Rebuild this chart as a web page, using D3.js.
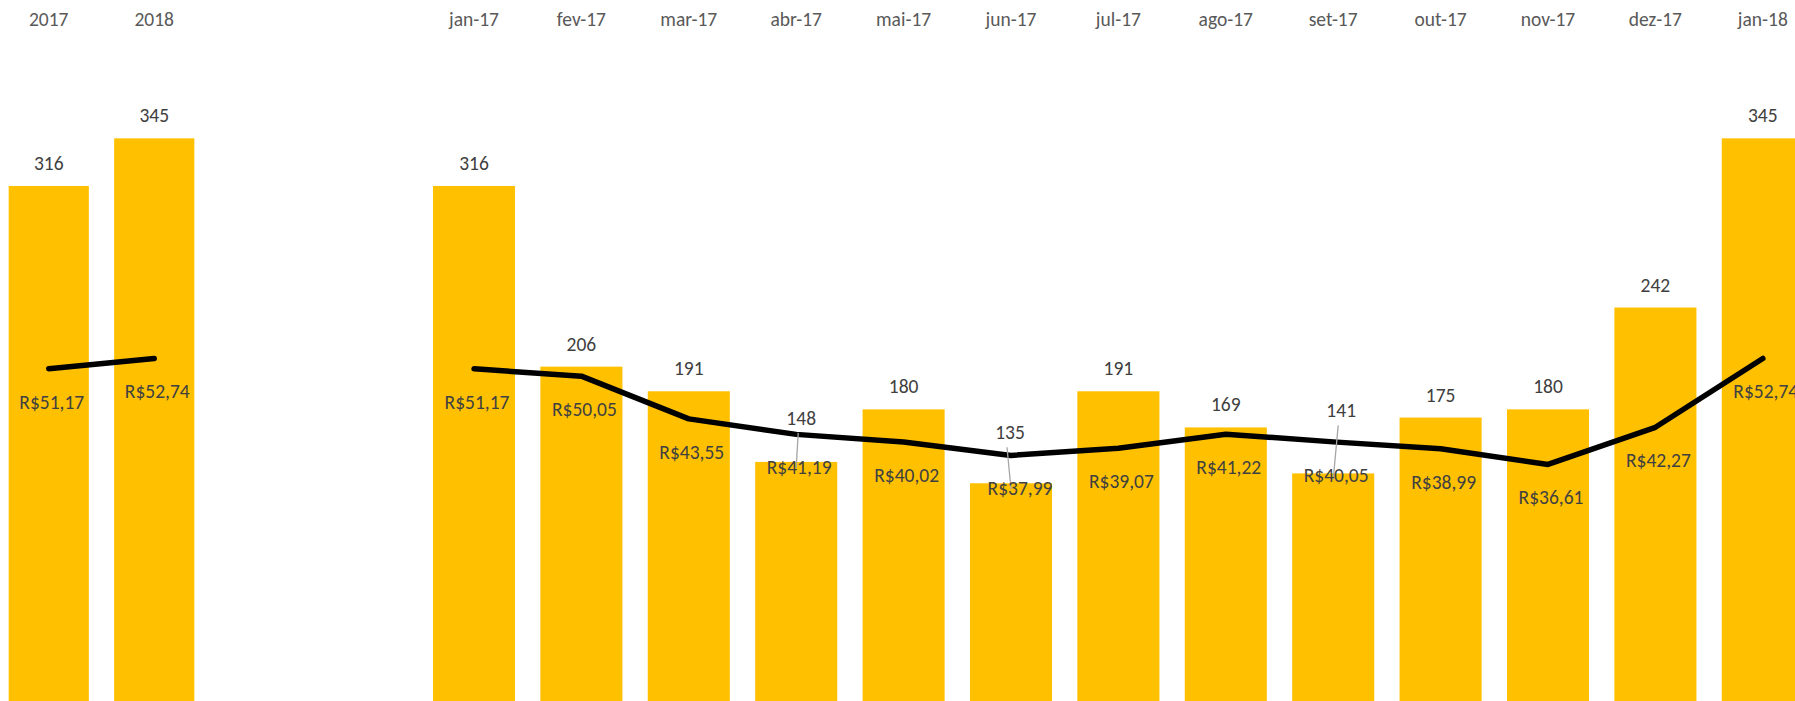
<!DOCTYPE html>
<html>
<head>
<meta charset="utf-8">
<script src="https://cdn.jsdelivr.net/npm/d3@7"></script>
<style>
  html, body { margin: 0; padding: 0; background: #fff; overflow: hidden; }
  svg text { font-family: Carlito, Calibri, Lato, sans-serif; font-size: 19.5px; }
</style>
</head>
<body>
<svg id="chart" width="1795" height="701"></svg>
<script>
// yearly summary (left panel)
const yearCats = ["2017", "2018"];
const yearQty = [316, 345];
const yearPrice = [51.17, 52.74];

// monthly detail (right panel)
const monthCats = ["jan-17", "fev-17", "mar-17", "abr-17", "mai-17", "jun-17", "jul-17",
  "ago-17", "set-17", "out-17", "nov-17", "dez-17", "jan-18"];
const monthQty = [316, 206, 191, 148, 180, 135, 191, 169, 141, 175, 180, 242, 345];
const monthPrice = [51.17, 50.05, 43.55, 41.19, 40.02, 37.99, 39.07, 41.22, 40.05, 38.99, 36.61, 42.27, 52.74];

const qtyMax = 400;
const priceMax = 100;

// labels that were dragged by hand in the original (dx, dy) -> get a leader line
const qtyNudge = { "abr-17": [5, -21], "jun-17": [-1, -28], "set-17": [8, -40] };
const priceNudge = { "jun-17": [6, 0] };

const svg = d3.select("#chart");

// both panels share the same vertical scales
let yQty = d3.scaleLinear().domain([0, qtyMax]).range([705, 48]);
let yPrice = d3.scaleLinear().domain([0, priceMax]).range([705, 48]);

let fmtPrice = (v) => "R$" + v.toFixed(2).replace(".", ",");

let drawPanel = (cats, qty, price, range, pad) => {
  let x = d3.scaleBand()
    .domain(cats)
    .range(range)
    .paddingInner(pad)
    .paddingOuter(pad / 2);

  let rows = cats.map((c, i) => ({ cat: c, qty: qty[i], price: price[i] }));
  let g = svg.append("g");

  // bars
  g.selectAll("rect.bar")
    .data(rows)
    .enter()
    .append("rect")
    .attr("class", "bar")
    .attr("x", d => x(d.cat))
    .attr("y", d => yQty(d.qty))
    .attr("width", x.bandwidth())
    .attr("height", d => yQty(0) - yQty(d.qty))
    .attr("fill", "#FFC000");

  // category labels on top
  g.selectAll("text.cat")
    .data(rows)
    .enter()
    .append("text")
    .attr("class", "cat")
    .attr("x", d => x(d.cat) + x.bandwidth() / 2)
    .attr("y", 19)
    .attr("text-anchor", "middle")
    .attr("dominant-baseline", "central")
    .attr("fill", "#595959")
    .text(d => d.cat);

  // price line
  let line = d3.line()
    .x(d => x(d.cat) + x.bandwidth() / 2)
    .y(d => yPrice(d.price));

  g.append("path")
    .datum(rows)
    .attr("d", line)
    .attr("fill", "none")
    .attr("stroke", "#000")
    .attr("stroke-width", 5.5)
    .attr("stroke-linejoin", "round")
    .attr("stroke-linecap", "round");

  // leader lines for the moved quantity labels
  let moved = rows.filter(d => qtyNudge[d.cat]);
  g.selectAll("line.leader")
    .data(moved)
    .enter()
    .append("line")
    .attr("class", "leader")
    .attr("x1", d => x(d.cat) + x.bandwidth() / 2 + qtyNudge[d.cat][0] - 3)
    .attr("y1", d => yQty(d.qty) - 23 + qtyNudge[d.cat][1] + 15)
    .attr("x2", d => x(d.cat) + x.bandwidth() / 2)
    .attr("y2", d => yQty(d.qty) + 6)
    .attr("stroke", "#a6a6a6")
    .attr("stroke-width", 1.3);

  // quantity labels
  g.selectAll("text.qty")
    .data(rows)
    .enter()
    .append("text")
    .attr("class", "qty")
    .attr("x", d => x(d.cat) + x.bandwidth() / 2 + (qtyNudge[d.cat] ? qtyNudge[d.cat][0] : 0))
    .attr("y", d => yQty(d.qty) - 23 + (qtyNudge[d.cat] ? qtyNudge[d.cat][1] : 0))
    .attr("text-anchor", "middle")
    .attr("dominant-baseline", "central")
    .attr("fill", "#404040")
    .text(d => d.qty);

  // price labels under the line points
  g.selectAll("text.price")
    .data(rows)
    .enter()
    .append("text")
    .attr("class", "price")
    .attr("x", d => x(d.cat) + x.bandwidth() / 2 + 3 + (priceNudge[d.cat] ? priceNudge[d.cat][0] : 0))
    .attr("y", d => yPrice(d.price) + 33 + (priceNudge[d.cat] ? priceNudge[d.cat][1] : 0))
    .attr("text-anchor", "middle")
    .attr("dominant-baseline", "central")
    .attr("fill", "#404040")
    .text(d => fmtPrice(d.price));
};

drawPanel(yearCats, yearQty, yearPrice, [-4, 207], 0.24);
drawPanel(monthCats, monthQty, monthPrice, [420.3, 1816.5], 0.236);
</script>
</body>
</html>
